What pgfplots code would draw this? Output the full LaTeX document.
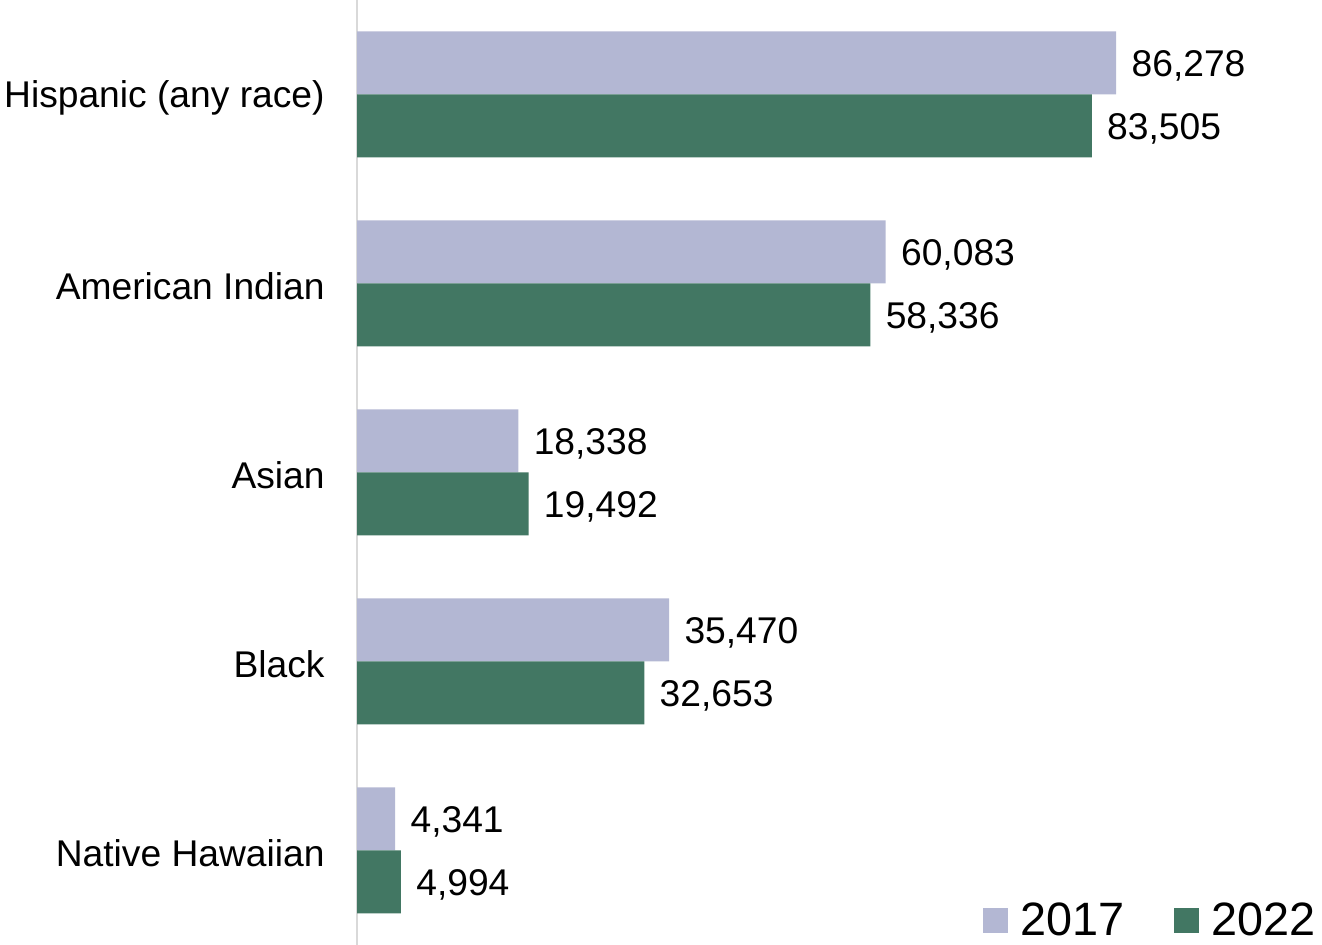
\documentclass[border=0pt]{standalone}
\usepackage{fontspec}
\setmainfont{Liberation Sans}
\usepackage{pgfplots}
\pgfplotsset{compat=1.18}
\definecolor{c17}{HTML}{B3B7D3}
\definecolor{c22}{HTML}{427763}
\definecolor{axgray}{HTML}{D9D9D9}
\begin{document}
\begin{tikzpicture}
\begin{axis}[
  at={(178.5pt,0pt)}, anchor=south west,
  scale only axis, width=482.5pt, height=472.5pt,
  xbar, bar width=31.5pt,
  xmin=0, xmax=109660,
  ymin=-0.5, ymax=4.5,
  axis x line=none,
  axis y line=left,
  y axis line style={-, draw=axgray, line width=1pt},
  ytick={0,1,2,3,4},
  yticklabels={Native Hawaiian, Black, Asian, American Indian, Hispanic (any race)},
  major tick length=0pt,
  yticklabel style={font=\fontsize{18.6}{22}\selectfont, inner sep=0pt, xshift=-16pt, yshift=-1.5pt, anchor=east},
  nodes near coords={\pgfmathprintnumber[fixed, precision=0, 1000 sep={,}, assume math mode=true]{\pgfplotspointmeta}},
  every node near coord/.append style={font=\fontsize{18.6}{22}\selectfont, anchor=west, xshift=7.5pt, yshift=-1.5pt, inner sep=0pt},
  legend columns=2,
  legend style={draw=none, fill=none, font=\fontsize{23.4}{28}\selectfont, at={(1,0)}, anchor=south east, inner sep=1pt,
    /tikz/every even column/.append style={column sep=23pt}},
  legend image code/.code={\fill[#1] (0pt,-6.25pt) rectangle (12.5pt,6.25pt);},
]
\addplot[fill=c17, draw=none, bar shift=15.75pt] coordinates {
  (4341,0) (35470,1) (18338,2) (60083,3) (86278,4)};
\addplot[fill=c22, draw=none, bar shift=-15.75pt] coordinates {
  (4994,0) (32653,1) (19492,2) (58336,3) (83505,4)};
\legend{\hspace{4pt}2017, \hspace{4pt}2022}
\end{axis}
\pgfresetboundingbox
\path (0,0) rectangle (661pt,472.5pt);
\end{tikzpicture}
\end{document}
